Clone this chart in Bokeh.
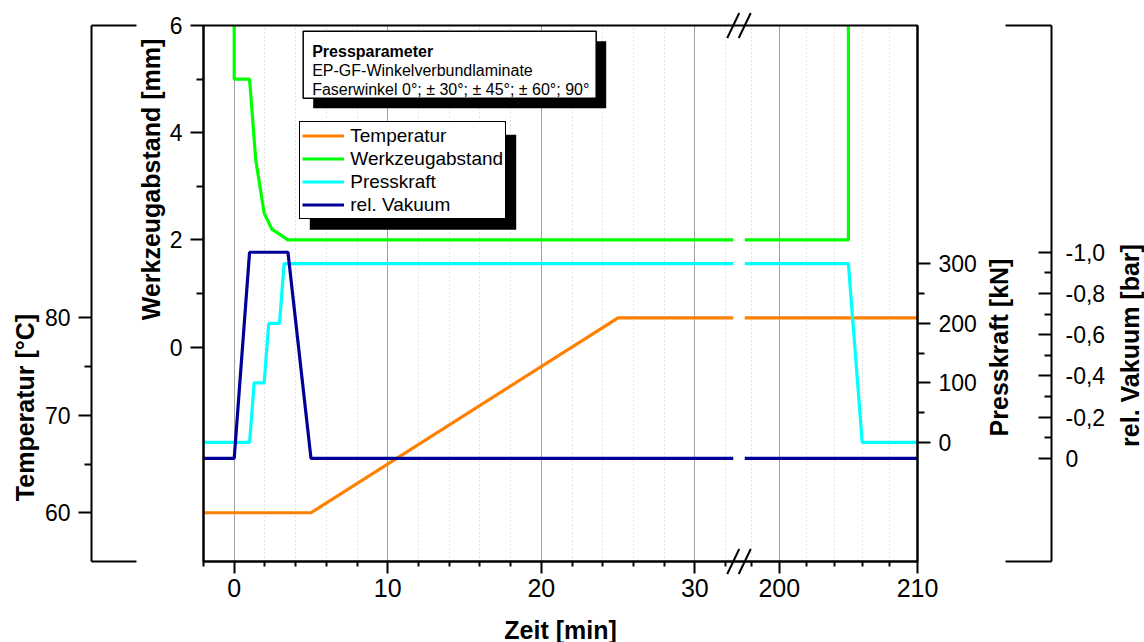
import math
import numpy as np
from bokeh.plotting import figure
from bokeh.models import (Range1d, LinearAxis, FixedTicker, Legend, LegendItem,
                          Label, BoxAnnotation, Grid)
from bokeh.embed import file_html
from bokeh.resources import INLINE

# ---------------- data (time in minutes) ----------------
temp_t = [-2, 5, 25, 210]
temp_v = [60, 60, 80, 80]                                  # Temperatur [°C]

gap_t = [0, 0, 1.0, 1.4, 1.95, 2.45, 3.5, 205, 205]
gap_v = [6.0, 5.0, 5.0, 3.5, 2.5, 2.2, 2.0, 2.0, 6.0]      # Werkzeugabstand [mm]

force_t = [-2, 1.0, 1.3, 1.95, 2.25, 2.95, 3.25, 205, 206, 210]
force_v = [0, 0, 100, 100, 200, 200, 300, 300, 0, 0]       # Presskraft [kN]

vac_t = [-2, 0, 1.0, 3.5, 5.0, 210]
vac_v = [0, 0, -1.0, -1.0, 0, 0]                            # rel. Vakuum [bar]

x_major = [0, 10, 20, 30, 200, 210]
x_minor = [-2, 2, 4, 6, 8, 12, 14, 16, 18, 22, 24, 26, 28, 32, 198, 202, 204, 206, 208]
gap_ticks, gap_minor = [0, 2, 4, 6], [1, 3, 5]
temp_ticks, temp_minor = [60, 70, 80], [65, 75]
force_ticks, force_minor = [0, 100, 200, 300], [50, 150, 250]
vac_ticks = [-1.0, -0.8, -0.6, -0.4, -0.2, 0.0]
vac_minor = [-0.9, -0.7, -0.5, -0.3, -0.1]
vac_labels = ["-1,0", "-0,8", "-0,6", "-0,4", "-0,2", "0"]

legend_labels = ["Temperatur", "Werkzeugabstand", "Presskraft", "rel. Vakuum"]
colors = ["#FF8000", "#00FF00", "#00FFFF", "#000099"]

# ---------------- broken time axis ----------------
T_BREAK_L, T_BREAK_R = 32.5, 197.5
GAP, K = 0.75, 0.9


def disp(t):
    t = np.asarray(t, dtype=float)
    return np.where(t <= T_BREAK_L, t, T_BREAK_L + GAP + (t - T_BREAK_R) * K)


def broken(ts, vs):
    ts = np.asarray(ts, float)
    vs = np.asarray(vs, float)
    lm = ts < T_BREAK_L
    lt = np.append(ts[lm], T_BREAK_L)
    lv = np.append(vs[lm], np.interp(T_BREAK_L, ts, vs))
    rm = ts > T_BREAK_R
    rt = np.insert(ts[rm], 0, T_BREAK_R)
    rv = np.insert(vs[rm], 0, np.interp(T_BREAK_R, ts, vs))
    x = np.concatenate([disp(lt), [np.nan], disp(rt)])
    y = np.concatenate([lv, [np.nan], rv])
    return x, y


W, H = 1144, 642
X_START, X_END = -2.0, float(disp(210))
Y_START, Y_END = -4.0, 6.0
FL, FR, FT, FB = 203, 917, 25, 561       # plot box in canvas pixels


def px_x(px):
    return X_START + (px - FL) * (X_END - X_START) / (FR - FL)


def px_y(py):
    return Y_END - (py - FT) * (Y_END - Y_START) / (FB - FT)


def full_range(lo, hi):
    per = (hi - lo) / (FB - FT)
    return Range1d(lo - (H - FB) * per, hi + FT * per)


FONT = "Liberation Sans"

p = figure(width=W, height=H, min_border=0,
           x_range=Range1d(px_x(0), px_x(W)), y_range=full_range(Y_START, Y_END),
           output_backend="svg", toolbar_location=None)
p.background_fill_color = "white"
p.border_fill_color = "white"
p.outline_line_alpha = 0

p.extra_y_ranges = {"temp": full_range(55, 110),
                    "force": full_range(-200, 700),
                    "vac": full_range(0.5, -2.1)}


def style_axis(a, fs):
    a.axis_line_width = 2
    a.major_tick_line_width = 2
    a.minor_tick_line_width = 2
    a.major_label_text_font = FONT
    a.major_label_text_font_size = fs
    a.major_label_text_color = "black"


# ---------------- x axis ----------------
xt = [float(v) for v in disp(x_major)]
xm = [float(v) for v in disp(x_minor)]
xticker = FixedTicker(ticks=xt, minor_ticks=xm)
xa = p.xaxis[0]
xa.ticker = xticker
xa.fixed_location = Y_START
xa.bounds = (X_START, X_END)
xa.major_label_overrides = {v: str(t) for v, t in zip(xt, x_major)}
xa.major_label_standoff = 5
xa.major_tick_in, xa.major_tick_out = 0, 12
xa.minor_tick_in, xa.minor_tick_out = 0, 5
style_axis(xa, "25px")

# grid
p.xgrid.visible = False
p.ygrid.visible = False
grid_kw = dict(dimension=0, ticker=xticker,
               grid_line_color="#a0a0a0", grid_line_width=1,
               minor_grid_line_color="#c8c8c8", minor_grid_line_dash="1 3",
               minor_grid_line_width=1, bounds=(X_START, X_END))
if "cross_bounds" in Grid.properties():
    grid_kw["cross_bounds"] = (Y_START, Y_END)
    p.add_layout(Grid(**grid_kw))
else:
    p.segment(x0=xt, x1=xt, y0=Y_START, y1=Y_END, line_color="#a0a0a0", line_width=1)
    p.segment(x0=xm, x1=xm, y0=Y_START, y1=Y_END, line_color="#c8c8c8",
              line_width=1, line_dash="1 3")

# Werkzeugabstand (left, at plot box)
ya = p.yaxis[0]
ya.ticker = FixedTicker(ticks=gap_ticks, minor_ticks=gap_minor)
ya.fixed_location = X_START
ya.bounds = (Y_START, Y_END)
ya.major_tick_in, ya.major_tick_out = 0, 13
ya.minor_tick_in, ya.minor_tick_out = 0, 7
ya.major_label_standoff = 8
style_axis(ya, "23px")

# Temperatur (outer left)
ta = LinearAxis(y_range_name="temp",
                ticker=FixedTicker(ticks=temp_ticks, minor_ticks=temp_minor),
                fixed_location=px_x(91), bounds=(55, 110))
ta.major_tick_in, ta.major_tick_out = 0, 13
ta.minor_tick_in, ta.minor_tick_out = 0, 7
ta.major_label_standoff = 8
style_axis(ta, "23px")
p.add_layout(ta, "left")

# Presskraft (right, at plot box)
fa = LinearAxis(y_range_name="force",
                ticker=FixedTicker(ticks=force_ticks, minor_ticks=force_minor),
                fixed_location=X_END, bounds=(-200, 700))
fa.major_tick_in, fa.major_tick_out = 0, 13
fa.minor_tick_in, fa.minor_tick_out = 0, 7
fa.major_label_standoff = 8
style_axis(fa, "23px")
p.add_layout(fa, "right")

# rel. Vakuum (outer right)
va = LinearAxis(y_range_name="vac",
                ticker=FixedTicker(ticks=vac_ticks, minor_ticks=vac_minor),
                fixed_location=px_x(1051), bounds=(-2.1, 0.5))
va.major_label_overrides = {v: s for v, s in zip(vac_ticks, vac_labels)}
va.major_tick_in, va.major_tick_out = 13, 0
va.minor_tick_in, va.minor_tick_out = 7, 0
va.major_label_standoff = 14
style_axis(va, "23px")
p.add_layout(va, "right")

# ---------------- lines ----------------
rs = []
for (ts, vs, rng), col in zip([(temp_t, temp_v, "temp"), (gap_t, gap_v, "default"),
                               (force_t, force_v, "force"), (vac_t, vac_v, "vac")], colors):
    x, y = broken(ts, vs)
    r = p.line(x, y, line_color=col, line_width=3.2, y_range_name=rng)
    rs.append(r)

# ---------------- plot box, axis brackets and break marks ----------------
p.add_layout(BoxAnnotation(left=X_START, right=X_END, bottom=Y_START, top=Y_END,
                           fill_alpha=0, line_color="black", line_alpha=1, line_width=2))

cap_xs, cap_ys = [], []
for x_axis, x_end in ((px_x(91), px_x(136)), (px_x(1051), px_x(1005))):
    for yy in (Y_END, Y_START):
        cap_xs.append([x_axis, x_end])
        cap_ys.append([yy, yy])
p.multi_line(cap_xs, cap_ys, line_color="black", line_width=2)

dx = 6 * (X_END - X_START) / (FR - FL)
dy = 12.5 * (Y_END - Y_START) / (FB - FT)
br_xs, br_ys = [], []
for cx in (float(disp(T_BREAK_L)), float(disp(T_BREAK_R))):
    for yy in (Y_END, Y_START):
        br_xs.append([cx - dx, cx + dx])
        br_ys.append([yy - dy, yy + dy])
p.multi_line(br_xs, br_ys, line_color="black", line_width=2)

# ---------------- axis titles ----------------
titles = [("Werkzeugabstand [mm]", 150, 179, math.pi / 2),
          ("Temperatur [°C]", 24, 407, math.pi / 2),
          ("Presskraft [kN]", 998, 347, math.pi / 2),
          ("rel. Vakuum [bar]", 1129, 345, math.pi / 2),
          ("Zeit [min]", 560, 629, 0)]
for txt, cx, cy, ang in titles:
    p.add_layout(Label(x=px_x(cx), y=px_y(cy), text=txt, angle=ang,
                       text_align="center", text_baseline="middle",
                       text_font=FONT, text_font_style="bold",
                       text_font_size="25px", text_color="black"))

# ---------------- info box ----------------
p.add_layout(BoxAnnotation(left=px_x(312.7), right=px_x(605.7), top=px_y(40.7),
                           bottom=px_y(107.7), fill_color="black", fill_alpha=1,
                           line_alpha=0))
p.add_layout(BoxAnnotation(left=px_x(302.7), right=px_x(595.7), top=px_y(30.7),
                           bottom=px_y(97.7), fill_color="white", fill_alpha=1,
                           line_color="black", line_alpha=1, line_width=1.5))
info = [("Pressparameter", "bold", 51), ("EP-GF-Winkelverbundlaminate", "normal", 69.5),
        ("Faserwinkel 0°; ± 30°; ± 45°; ± 60°; 90°", "normal", 89)]
for txt, st, by in info:
    p.add_layout(Label(x=px_x(311.7), y=px_y(by), text=txt, text_align="left",
                       text_baseline="alphabetic", text_font=FONT,
                       text_font_style=st, text_font_size="16px", text_color="black"))

# ---------------- legend ----------------
p.add_layout(BoxAnnotation(left=px_x(309.3), right=px_x(515.7), top=px_y(134.3),
                           bottom=px_y(229.3), fill_color="black", fill_alpha=1,
                           line_alpha=0))
legend = Legend(items=[LegendItem(label=l, renderers=[r]) for l, r in zip(legend_labels, rs)],
                location=(299.3, H - 219.3),
                label_text_font=FONT, label_text_font_size="19px",
                label_text_color="black",
                glyph_width=42, glyph_height=23, label_height=23, spacing=0,
                padding=2, label_standoff=6, margin=0,
                border_line_color="black", border_line_width=1.5, border_line_alpha=1,
                background_fill_color="white", background_fill_alpha=1)
p.add_layout(legend)

open("out.html", "w").write(file_html(p, INLINE))
